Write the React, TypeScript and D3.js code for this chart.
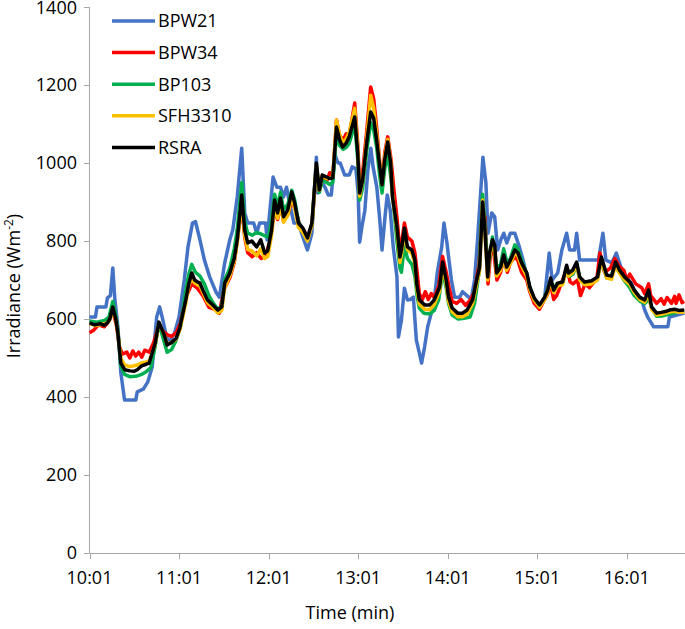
import { useEffect, useRef } from 'react';
import * as d3 from 'd3';

// minutes after 10:01, irradiance in W/m2
const bpw21: [number, number][] = [
  [0, 605], [4, 605], [5, 631], [11, 631], [12, 654], [14, 660], [15.6, 731], [17, 650], [19, 580],
  [21, 462], [23.5, 392], [31, 392], [32, 413], [36, 420], [39, 438], [42, 477], [45, 605], [47, 631],
  [49, 600], [51, 564], [53, 538], [57, 564], [60, 605], [63.5, 700], [66, 785], [69, 846], [71, 850],
  [74, 803], [77, 751], [80.5, 708], [85, 667], [87, 656], [90.6, 744], [94, 803], [96, 828], [99, 913],
  [102, 1038], [104, 872], [106, 846], [110, 846], [112, 820], [114, 846], [118, 846], [119, 803],
  [123, 964], [125.5, 938], [128, 938], [130, 913], [132, 938], [134, 897], [137, 846], [140, 846],
  [143, 810], [146, 777], [149, 820], [152, 1015], [153, 923], [155, 956], [158, 936], [160, 918],
  [162, 918], [164.5, 1021], [166.5, 1000], [168, 1000], [171, 969], [174, 969], [176, 990], [178.5, 985],
  [180, 923], [181, 797], [182.5, 836], [184.5, 879], [186.5, 982], [188.5, 1038], [190, 990],
  [192.5, 938], [194.5, 854], [196, 777], [198, 862], [199.5, 918], [201.5, 879], [203.5, 785],
  [206, 708], [207, 554], [209, 597], [211, 679], [213, 649], [215, 650], [217, 656], [219, 546],
  [221, 513], [222.5, 487], [224.5, 528], [226.6, 580], [229, 615], [231, 649], [233, 718], [236, 785],
  [237.5, 846], [239.5, 795], [240.6, 759], [242.5, 700], [244.6, 656], [248, 656], [250, 670], [254, 656],
  [256, 656], [258, 700], [260, 803], [262.5, 949], [263.6, 1015], [265.6, 949], [267, 820], [269.5, 872],
  [271.5, 862], [273.5, 777], [275.6, 803], [277.6, 820], [279.6, 795], [282, 820], [285, 820], [288, 785],
  [290.5, 751], [292.5, 718], [295, 682], [298, 649], [301.5, 631], [305, 656], [308, 769], [310, 700],
  [313.7, 718], [316.5, 777], [319.7, 820], [321.7, 777], [325, 777], [326.4, 820], [328.4, 751],
  [341, 751], [344, 820], [346, 751], [350, 744], [353, 769], [356, 733], [359.5, 708], [363, 692],
  [366, 667], [370, 649], [372, 623], [374, 605], [378, 580], [387.5, 580], [388.6, 605], [398.5, 615],
];

const bpw34: [number, number][] = [
  [0, 565], [3, 572], [6, 585], [10, 580], [13, 595], [15.6, 620], [18, 585], [20, 530], [22, 510],
  [25, 515], [27, 500], [29, 518], [31, 505], [33, 515], [35, 502], [37, 520], [40, 515], [43, 540],
  [46.5, 585], [49, 570], [52, 560], [55, 555], [58, 565], [61, 590], [64, 650], [68.5, 690], [72, 680],
  [76, 660], [80, 630], [84, 625], [87, 615], [90, 675], [94, 705], [97, 745], [102, 890], [104, 810],
  [106, 770], [109, 760], [112, 770], [115, 755], [118, 762], [121, 800], [124, 880], [126, 855],
  [128, 895], [130, 850], [133, 870], [135.5, 905], [138, 880], [141, 840], [144, 825], [146, 805],
  [149, 840], [152, 985], [154, 930], [156, 968], [159, 955], [161, 975], [163, 960], [165.5, 1110],
  [167.6, 1070], [170, 1060], [172, 1075], [174, 1070], [177.7, 1154], [179.7, 1050], [181, 935],
  [183, 975], [185.7, 1080], [188.4, 1195], [190.4, 1165], [192.4, 1090], [194.5, 1000], [196, 960],
  [198, 1030], [199.8, 1067], [202, 1010], [204, 930], [206, 860], [208, 775], [209, 790], [211, 846],
  [213, 810], [216, 800], [218, 770], [219.5, 720], [221, 665], [223, 650], [225, 670], [227, 650],
  [229, 665], [231, 655], [234, 685], [236.6, 760], [239, 720], [241, 680], [243, 645], [246, 640],
  [249, 650], [252, 635], [255, 648], [258, 670], [261, 740], [263.4, 880], [265, 860], [267, 690],
  [268.5, 760], [270, 800], [273, 700], [275.5, 720], [277.5, 755], [280, 720], [282, 745], [285, 760],
  [287, 750], [289.5, 720], [293, 700], [295, 670], [298, 640], [301.5, 625], [305, 650], [307, 665],
  [309, 690], [311, 650], [313, 660], [317, 700], [320, 730], [322, 695], [324, 690], [327, 700],
  [329, 660], [332, 690], [335, 680], [337, 690], [340, 705], [342, 770], [345, 720], [349, 730],
  [352, 755], [355, 735], [358, 725], [360, 700], [362, 715], [366, 690], [370, 680], [372, 665],
  [374.6, 690], [376, 660], [380, 640], [383, 652], [385, 638], [387, 655], [390, 640], [392, 658],
  [393, 640], [395, 662], [397, 642], [398.5, 645],
];

const bp103: [number, number][] = [
  [0, 595], [5, 592], [10, 596], [13, 605], [15.6, 645], [17.6, 610], [19, 570], [21, 480], [23.5, 458],
  [27, 452], [31, 453], [35, 458], [38, 465], [41, 475], [44, 530], [46.5, 590], [49, 555], [52, 515],
  [55, 522], [58, 545], [61, 580], [64, 660], [66.5, 715], [68.5, 740], [71, 720], [74, 710], [77, 690],
  [80, 660], [83, 640], [86, 625], [88.6, 632], [90.6, 700], [94, 730], [97, 780], [99, 830], [102, 950],
  [104, 850], [106, 820], [109, 815], [112, 822], [115, 818], [118, 812], [120, 810], [122, 855],
  [124, 920], [126, 890], [128, 925], [130, 880], [133, 895], [135.5, 930], [137.5, 905], [140, 850],
  [143, 830], [146, 805], [149, 840], [152, 995], [154, 925], [156, 955], [159, 950], [161, 945],
  [163, 950], [165.5, 1075], [167.6, 1045], [170, 1035], [172, 1040], [174, 1050], [177.7, 1100],
  [179.7, 1010], [181, 905], [183, 935], [185.7, 1030], [188.4, 1103], [190.4, 1085], [192.4, 1040],
  [194.5, 965], [196, 923], [198, 990], [199.8, 1020], [202, 960], [204, 880], [206, 800], [208, 730],
  [209, 720], [211, 790], [213, 755], [216, 740], [218, 710], [219.5, 660], [221, 628], [224, 615],
  [228, 613], [231, 622], [234, 650], [236.6, 720], [239, 680], [240.6, 640], [243, 610], [247, 600],
  [251, 602], [255, 605], [258, 640], [261, 720], [263.4, 920], [265, 840], [267, 720], [268.5, 770],
  [270, 810], [273, 730], [275.5, 740], [277.5, 780], [280, 740], [282, 755], [285, 790], [287, 780],
  [290, 745], [293, 715], [295, 680], [298, 650], [301.5, 632], [305, 655], [307, 675], [309, 700],
  [311, 675], [313, 690], [317, 695], [320, 725], [322, 710], [324, 715], [326.4, 740], [328.4, 705],
  [331, 695], [336, 695], [340, 700], [343, 750], [346.5, 705], [349, 705], [352, 735], [355, 720],
  [358, 700], [362, 680], [365, 660], [369, 645], [372, 640], [375, 650], [377, 625], [380, 607],
  [384, 608], [388, 612], [392, 615], [395, 618], [398.5, 620],
];

const sfh3310: [number, number][] = [
  [0, 588], [4, 583], [8, 586], [12, 590], [13.6, 598], [15.6, 625], [17.6, 598], [19, 562], [21, 500],
  [23.6, 482], [27, 478], [30, 480], [32, 482], [35, 488], [38, 490], [40, 492], [44, 535], [46.5, 590],
  [50, 560], [52, 535], [55, 540], [58, 548], [60.5, 572], [64.5, 640], [66.5, 685], [68.5, 705],
  [70.5, 692], [74, 685], [76, 668], [79, 642], [82.6, 630], [86, 615], [88.6, 622], [90.6, 680],
  [94, 710], [97, 748], [99, 795], [102, 900], [104, 815], [106, 778], [108.7, 775], [112, 762],
  [114.7, 780], [117.4, 755], [119.4, 760], [122, 815], [124, 890], [126, 858], [128, 895], [130, 848],
  [132.8, 865], [135.5, 915], [137.5, 885], [140, 835], [143, 822], [146, 800], [149, 840], [152, 995],
  [154, 930], [156, 968], [159, 960], [161, 962], [163, 965], [165.5, 1110], [167.6, 1072],
  [169.6, 1052], [172, 1062], [174, 1078], [177.7, 1140], [179.7, 1040], [181, 915], [183, 955],
  [185.7, 1062], [188.4, 1174], [190.4, 1140], [192.4, 1075], [194.5, 995], [196, 945], [197.8, 1015],
  [199.8, 1060], [201.8, 1005], [203, 915], [206, 830], [208, 745], [209, 765], [211, 822], [213, 778],
  [216, 768], [218, 742], [219.3, 680], [221, 638], [224.6, 625], [228, 624], [231, 637], [234.6, 672],
  [236.6, 735], [239, 690], [240.6, 645], [243, 618], [246.7, 606], [250, 606], [253, 612], [256.7, 640],
  [259.4, 690], [261.4, 725], [263.4, 905], [264.8, 830], [266.8, 700], [268, 760], [270, 795],
  [271.5, 782], [272.8, 710], [275.5, 725], [277.5, 758], [279.5, 725], [282, 742], [285, 770], [287, 762],
  [289.5, 736], [293, 710], [295, 675], [298, 648], [301.5, 630], [305, 650], [307, 668], [309, 698],
  [311, 668], [313.7, 685], [317, 688], [319.7, 730], [321, 710], [323.7, 718], [326.4, 738], [328.4, 700],
  [331.7, 688], [336.4, 690], [340.4, 700], [343, 752], [346.5, 705], [349.8, 702], [352.5, 738],
  [355, 718], [358.5, 700], [362, 688], [365, 668], [368.6, 650], [372, 643], [374.6, 665], [376.6, 625],
  [380, 610], [383, 612], [386.6, 615], [388.6, 618], [392, 620], [395, 617], [398.5, 618],
];

const rsra: [number, number][] = [
  [0, 590], [3.5, 585], [7, 588], [10, 584], [12, 590], [13.6, 600], [15.6, 631], [17.6, 600], [19, 564],
  [21, 487], [23.6, 470], [27, 467], [30, 466], [32, 470], [35, 480], [38, 484], [40, 487], [44, 538],
  [46.5, 592], [50, 560], [52, 533], [55, 540], [58, 550], [60.5, 577], [64.5, 649], [66.5, 690],
  [68.5, 718], [70.5, 700], [72.5, 695], [74, 692], [76, 674], [79, 649], [82.6, 636], [86, 623],
  [88.6, 631], [90.6, 692], [94, 718], [97, 756], [99, 803], [102, 918], [104, 828], [106, 795],
  [108.7, 800], [112, 785], [114.7, 803], [117.4, 769], [119.4, 775], [122, 828], [124, 905], [126, 872],
  [128, 910], [130, 862], [132.8, 880], [135.5, 926], [137.5, 897], [140, 846], [143, 833], [146, 808],
  [149, 846], [152, 1000], [154, 931], [156, 969], [159, 964], [161, 960], [163, 962], [165.5, 1092],
  [167.6, 1059], [169.6, 1041], [172, 1051], [174, 1067], [177.7, 1118], [179.7, 1026], [181, 923],
  [183, 956], [185.7, 1051], [188.4, 1131], [190.4, 1115], [192.4, 1059], [194.5, 990], [196, 944],
  [197.8, 1008], [199.8, 1054], [201.8, 1000], [203, 913], [206, 836], [208, 759], [209, 777], [211, 833],
  [213, 785], [216, 777], [218, 751], [219.3, 690], [221, 649], [224.6, 636], [228, 636], [231, 649],
  [234.6, 682], [236.6, 746], [239, 700], [240.6, 656], [243, 628], [246.7, 615], [250, 615], [253, 623],
  [256.7, 649], [259.4, 700], [261.4, 733], [263.4, 900], [264.8, 836], [266.8, 708], [268, 769],
  [270, 803], [271.5, 790], [272.8, 718], [275.5, 733], [277.5, 764], [279.5, 733], [282, 751], [285, 777],
  [287, 770], [289.5, 744], [293, 718], [295, 682], [298, 654], [301.5, 636], [305, 656], [307, 674],
  [309, 705], [311, 674], [313.7, 692], [317, 695], [319.7, 738], [321, 718], [323.7, 725], [326.4, 746],
  [328.4, 708], [331.7, 695], [336.4, 698], [340.4, 708], [343, 759], [346.5, 713], [349.8, 710],
  [352.5, 746], [355, 726], [358.5, 708], [362, 695], [365, 674], [368.6, 656], [372, 649], [374.6, 674],
  [376.6, 631], [380, 615], [383, 617], [386.6, 620], [388.6, 623], [392, 625], [395, 622], [398.5, 623],
];

const seriesNames = ['BPW21', 'BPW34', 'BP103', 'SFH3310', 'RSRA'];
const seriesData = [bpw21, bpw34, bp103, sfh3310, rsra];
const seriesColors = ['#4472C4', '#FF0000', '#00B050', '#FFC000', '#000000'];

const yTicks = [0, 200, 400, 600, 800, 1000, 1200, 1400];
const xTicks = [0, 60, 120, 180, 240, 300, 360];
const xTickLabels = ['10:01', '11:01', '12:01', '13:01', '14:01', '15:01', '16:01'];

export default function App() {
  const svgRef = useRef<SVGSVGElement>(null);

  useEffect(() => {
    const width = 685;
    const height = 629;
    const font = '"Open Sans", "Noto Sans", sans-serif';
    const fs = 18;

    const svg = d3.select(svgRef.current)
      .attr('width', width)
      .attr('height', height);
    svg.selectAll('*').remove();

    const x = d3.scaleLinear().domain([0, 399]).range([89.5, 685]);
    const y = d3.scaleLinear().domain([0, 1400]).range([553, 7]);

    // axes
    const axisColor = '#a6a6a6';
    svg.append('line')
      .attr('x1', 89.5).attr('x2', 89.5).attr('y1', y(1400)).attr('y2', y(0))
      .attr('stroke', axisColor).attr('stroke-width', 1);
    svg.append('line')
      .attr('x1', 89.5).attr('x2', width).attr('y1', y(0) + 0.5).attr('y2', y(0) + 0.5)
      .attr('stroke', axisColor).attr('stroke-width', 1);

    yTicks.forEach(t => {
      svg.append('line')
        .attr('x1', 84).attr('x2', 89.5).attr('y1', Math.round(y(t)) + 0.5).attr('y2', Math.round(y(t)) + 0.5)
        .attr('stroke', axisColor);
      svg.append('text')
        .attr('x', 77).attr('y', Math.max(y(t), 8))
        .attr('dy', '0.35em')
        .attr('text-anchor', 'end')
        .attr('font-family', font).attr('font-size', fs).attr('fill', '#000')
        .text(t);
    });

    xTicks.forEach((t, i) => {
      const px = Math.round(x(t)) + 0.5;
      svg.append('line')
        .attr('x1', px).attr('x2', px).attr('y1', y(0)).attr('y2', y(0) + 6)
        .attr('stroke', axisColor);
      svg.append('text')
        .attr('x', x(t)).attr('y', 584)
        .attr('text-anchor', 'middle')
        .attr('font-family', font).attr('font-size', fs).attr('fill', '#000')
        .text(xTickLabels[i]);
    });

    svg.append('text')
      .attr('x', 350).attr('y', 619)
      .attr('text-anchor', 'middle')
      .attr('font-family', font).attr('font-size', fs)
      .text('Time (min)');

    const yTitle = svg.append('text')
      .attr('transform', 'translate(19.5,286) rotate(-90)')
      .attr('text-anchor', 'middle')
      .attr('font-family', font).attr('font-size', fs);
    yTitle.append('tspan').text('Irradiance (Wm');
    yTitle.append('tspan').attr('font-size', 12).attr('dy', -7).text('-2');
    yTitle.append('tspan').attr('dy', 7).text(')');

    // lines
    const line = d3.line<[number, number]>()
      .x(d => x(d[0]))
      .y(d => y(d[1]))
      .curve(d3.curveLinear);

    seriesData.forEach((data, i) => {
      svg.append('path')
        .datum(data)
        .attr('fill', 'none')
        .attr('stroke', seriesColors[i])
        .attr('stroke-width', 3.5)
        .attr('stroke-linejoin', 'round')
        .attr('d', line);
    });

    // legend
    seriesNames.forEach((name, i) => {
      const ly = 21 + i * 31.6;
      svg.append('line')
        .attr('x1', 112).attr('x2', 155).attr('y1', ly).attr('y2', ly)
        .attr('stroke', seriesColors[i]).attr('stroke-width', 3.5);
      svg.append('text')
        .attr('x', 158).attr('y', ly)
        .attr('dy', '0.35em')
        .attr('font-family', font).attr('font-size', fs)
        .text(name);
    });
  }, []);

  return (
    <div style={{ position: 'absolute', left: 0, top: 0 }}>
      <svg ref={svgRef}></svg>
    </div>
  );
}
